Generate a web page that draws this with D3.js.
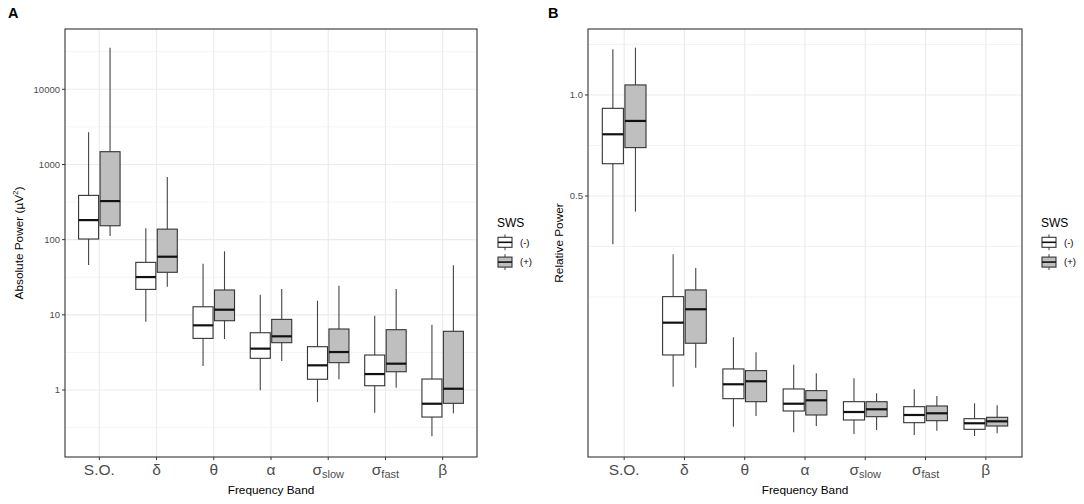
<!DOCTYPE html>
<html><head><meta charset="utf-8">
<script src="https://cdn.jsdelivr.net/npm/d3@7"></script>
<style>body{margin:0;background:#fff} text{font-family:"Liberation Sans",Arial,sans-serif}</style>
</head><body><svg id="c" width="1084" height="504"></svg>
<script>
// ---- data ----
const categories = ["S.O.","δ","θ","α","σslow","σfast","β"];
const groups = ["(-)","(+)"];
// each entry: [lower whisker, Q1, median, Q3, upper whisker]
const absMinus = [[46,102,182,388,2680],[8.1,21.8,31.8,49.9,142],[2.08,4.86,7.25,12.8,47.9],[0.99,2.64,3.55,5.78,18.5],[0.69,1.39,2.13,3.77,15.4],[0.5,1.14,1.63,2.92,9.75],[0.242,0.437,0.657,1.40,7.39]];
const absPlus  = [[112,153,326,1479,35700],[23.7,36.8,59.3,138,681],[4.77,8.35,11.7,21.4,70],[2.43,4.26,5.18,8.7,22],[1.39,2.31,3.2,6.48,24.4],[1.07,1.75,2.24,6.34,22],[0.49,0.665,1.04,6.04,45.5]];
const relMinus = [[0.322,0.641,0.785,0.924,1.283],[0.0238,0.0606,0.1155,0.1725,0.290],[0.00147,0.01428,0.026,0.0423,0.0885],[0.000485,0.00702,0.0110,0.0218,0.0475],[0.000293,0.00333,0.00654,0.01227,0.0319],[0.000202,0.00249,0.00521,0.00927,0.0215],[0.000128,0.00094,0.00232,0.00378,0.01126]];
const relPlus  = [[0.438,0.718,0.855,1.059,1.293],[0.0438,0.0785,0.1434,0.189,0.248],[0.0048,0.01227,0.0289,0.0403,0.0645],[0.00162,0.00521,0.01318,0.0204,0.0373],[0.00082,0.00453,0.00787,0.01227,0.0182],[0.00071,0.0031,0.00595,0.00966,0.0162],[0.000366,0.00162,0.0029,0.00429,0.01006]];
const absTicks = [1,10,100,1000,10000];
const absTickLabels = ["1","10","100","1000","10000"];
const absMinor = [0.3162,3.162,31.62,316.2,3162,31623];
const relTicks = [0.5,1.0];
const relTickLabels = ["0.5","1.0"];
const relMinor = [0.1716,0.3144,0.7286,1.3143];
const fills = ["#ffffff","#bfbfbf"];

const svg = d3.select("#c");

function drawPanel(cfg){
  const {x0,x1,y0,y1,yScale,ticks,tickLabels,minor,data,letter,letterX,ytitle,ytitleX,legendX} = cfg;
  const g = svg.append("g");
  const x = d3.scaleBand().domain(categories).range([x0,x1]).paddingInner(0).paddingOuter(0.1);
  const step = x.step();
  const xs = d3.scaleBand().domain(groups).range([-0.375*step,0.375*step]);
  const bw = 0.35*step;
  // grid
  g.selectAll(".mn").data(minor).join("line")
    .attr("x1",x0).attr("x2",x1).attr("y1",d=>yScale(d)).attr("y2",d=>yScale(d))
    .attr("stroke","#f0f0f0").attr("stroke-width",0.8);
  g.selectAll(".mj").data(ticks).join("line")
    .attr("x1",x0).attr("x2",x1).attr("y1",d=>yScale(d)).attr("y2",d=>yScale(d))
    .attr("stroke","#ebebeb").attr("stroke-width",1.1);
  g.selectAll(".vg").data(categories).join("line")
    .attr("x1",d=>x(d)+step/2).attr("x2",d=>x(d)+step/2).attr("y1",y0).attr("y2",y1)
    .attr("stroke","#ebebeb").attr("stroke-width",1.1);
  // boxes
  data.forEach((series,gi)=>{
    const grp = groups[gi];
    series.forEach((s,ci)=>{
      const cx = x(categories[ci])+step/2+xs(grp)+xs.bandwidth()/2;
      const [lo,q1,md,q3,hi]=s;
      g.append("line").attr("x1",cx).attr("x2",cx).attr("y1",yScale(hi)).attr("y2",yScale(q3)).attr("stroke","#444").attr("stroke-width",1.1);
      g.append("line").attr("x1",cx).attr("x2",cx).attr("y1",yScale(q1)).attr("y2",yScale(lo)).attr("stroke","#444").attr("stroke-width",1.1);
      g.append("rect").attr("x",cx-bw/2).attr("width",bw).attr("y",yScale(q3)).attr("height",yScale(q1)-yScale(q3))
        .attr("fill",fills[gi]).attr("stroke","#333").attr("stroke-width",1.1);
      g.append("line").attr("x1",cx-bw/2).attr("x2",cx+bw/2).attr("y1",yScale(md)).attr("y2",yScale(md)).attr("stroke","#111").attr("stroke-width",2.2);
    });
  });
  // border
  g.append("rect").attr("x",x0).attr("y",y1).attr("width",x1-x0).attr("height",y0-y1).attr("fill","none").attr("stroke","#333").attr("stroke-width",1.1);
  // y ticks
  ticks.forEach((t,i)=>{
    g.append("line").attr("x1",x0-3).attr("x2",x0).attr("y1",yScale(t)).attr("y2",yScale(t)).attr("stroke","#333");
    g.append("text").attr("x",x0-5).attr("y",yScale(t)).attr("dy","0.35em").attr("text-anchor","end")
      .attr("font-size",9.5).attr("fill","#4d4d4d").text(tickLabels[i]);
  });
  // x ticks
  categories.forEach(c=>{
    const cx = x(c)+step/2;
    g.append("line").attr("x1",cx).attr("x2",cx).attr("y1",y0).attr("y2",y0+3).attr("stroke","#333");
    const t = g.append("text").attr("x",cx).attr("y",475).attr("text-anchor","middle").attr("fill","#4d4d4d").attr("font-size",15.5);
    if(c.startsWith("σ")){
      t.append("tspan").text("σ");
      t.append("tspan").attr("font-size",11).attr("dy",3).text(c.slice(1));
    } else t.text(c);
  });
  // titles
  g.append("text").attr("x",(x0+x1)/2).attr("y",493.5).attr("text-anchor","middle").attr("font-size",11.8).attr("fill","#000").text("Frequency Band");
  const yt = g.append("text").attr("transform",`translate(${ytitleX},${(y0+y1)/2}) rotate(-90)`).attr("text-anchor","middle").attr("font-size",11.8).attr("fill","#000");
  ytitle.forEach(p=>{ const ts=yt.append("tspan").text(p.t); if(p.sup) ts.attr("font-size",8).attr("dy",-4.5); else if(p.after) ts.attr("dy",4.5); });
  g.append("text").attr("x",letterX).attr("y",17.5).attr("font-size",14.5).attr("font-weight","bold").attr("fill","#000").text(letter);
  // legend
  g.append("text").attr("x",legendX-1).attr("y",226.5).attr("font-size",12).attr("fill","#000").text("SWS");
  groups.forEach((gr,i)=>{
    const cy = 242.3 + i*19.8;
    const kx = legendX, kw = 14, cx = kx+kw/2;
    g.append("line").attr("x1",cx).attr("x2",cx).attr("y1",cy-8).attr("y2",cy+8).attr("stroke","#444");
    g.append("rect").attr("x",kx).attr("y",cy-5).attr("width",kw).attr("height",10).attr("fill",fills[i]).attr("stroke","#333").attr("stroke-width",1.1);
    g.append("line").attr("x1",kx).attr("x2",kx+kw).attr("y1",cy).attr("y2",cy).attr("stroke","#111").attr("stroke-width",1.6);
    g.append("text").attr("x",kx+22).attr("y",cy).attr("dy","0.35em").attr("font-size",9.5).attr("fill","#000").text(gr);
  });
}

const yA = d3.scaleLog().domain([Math.pow(10,-0.891),Math.pow(10,4.802)]).range([457,29]);
const yB = d3.scaleSqrt().domain([-0.00246,1.419]).range([457,29]);

drawPanel({x0:65,x1:477,y0:457,y1:29,yScale:yA,ticks:absTicks,tickLabels:absTickLabels,minor:absMinor,
  data:[absMinus,absPlus],letter:"A",letterX:8,ytitle:[{t:"Absolute Power (µV"},{t:"2",sup:true},{t:")",after:true}],ytitleX:22.5,legendX:498});
drawPanel({x0:588,x1:1022,y0:457,y1:29,yScale:yB,ticks:relTicks,tickLabels:relTickLabels,minor:relMinor,
  data:[relMinus,relPlus],letter:"B",letterX:548,ytitle:[{t:"Relative Power"}],ytitleX:563,legendX:1042});
</script></body></html>
